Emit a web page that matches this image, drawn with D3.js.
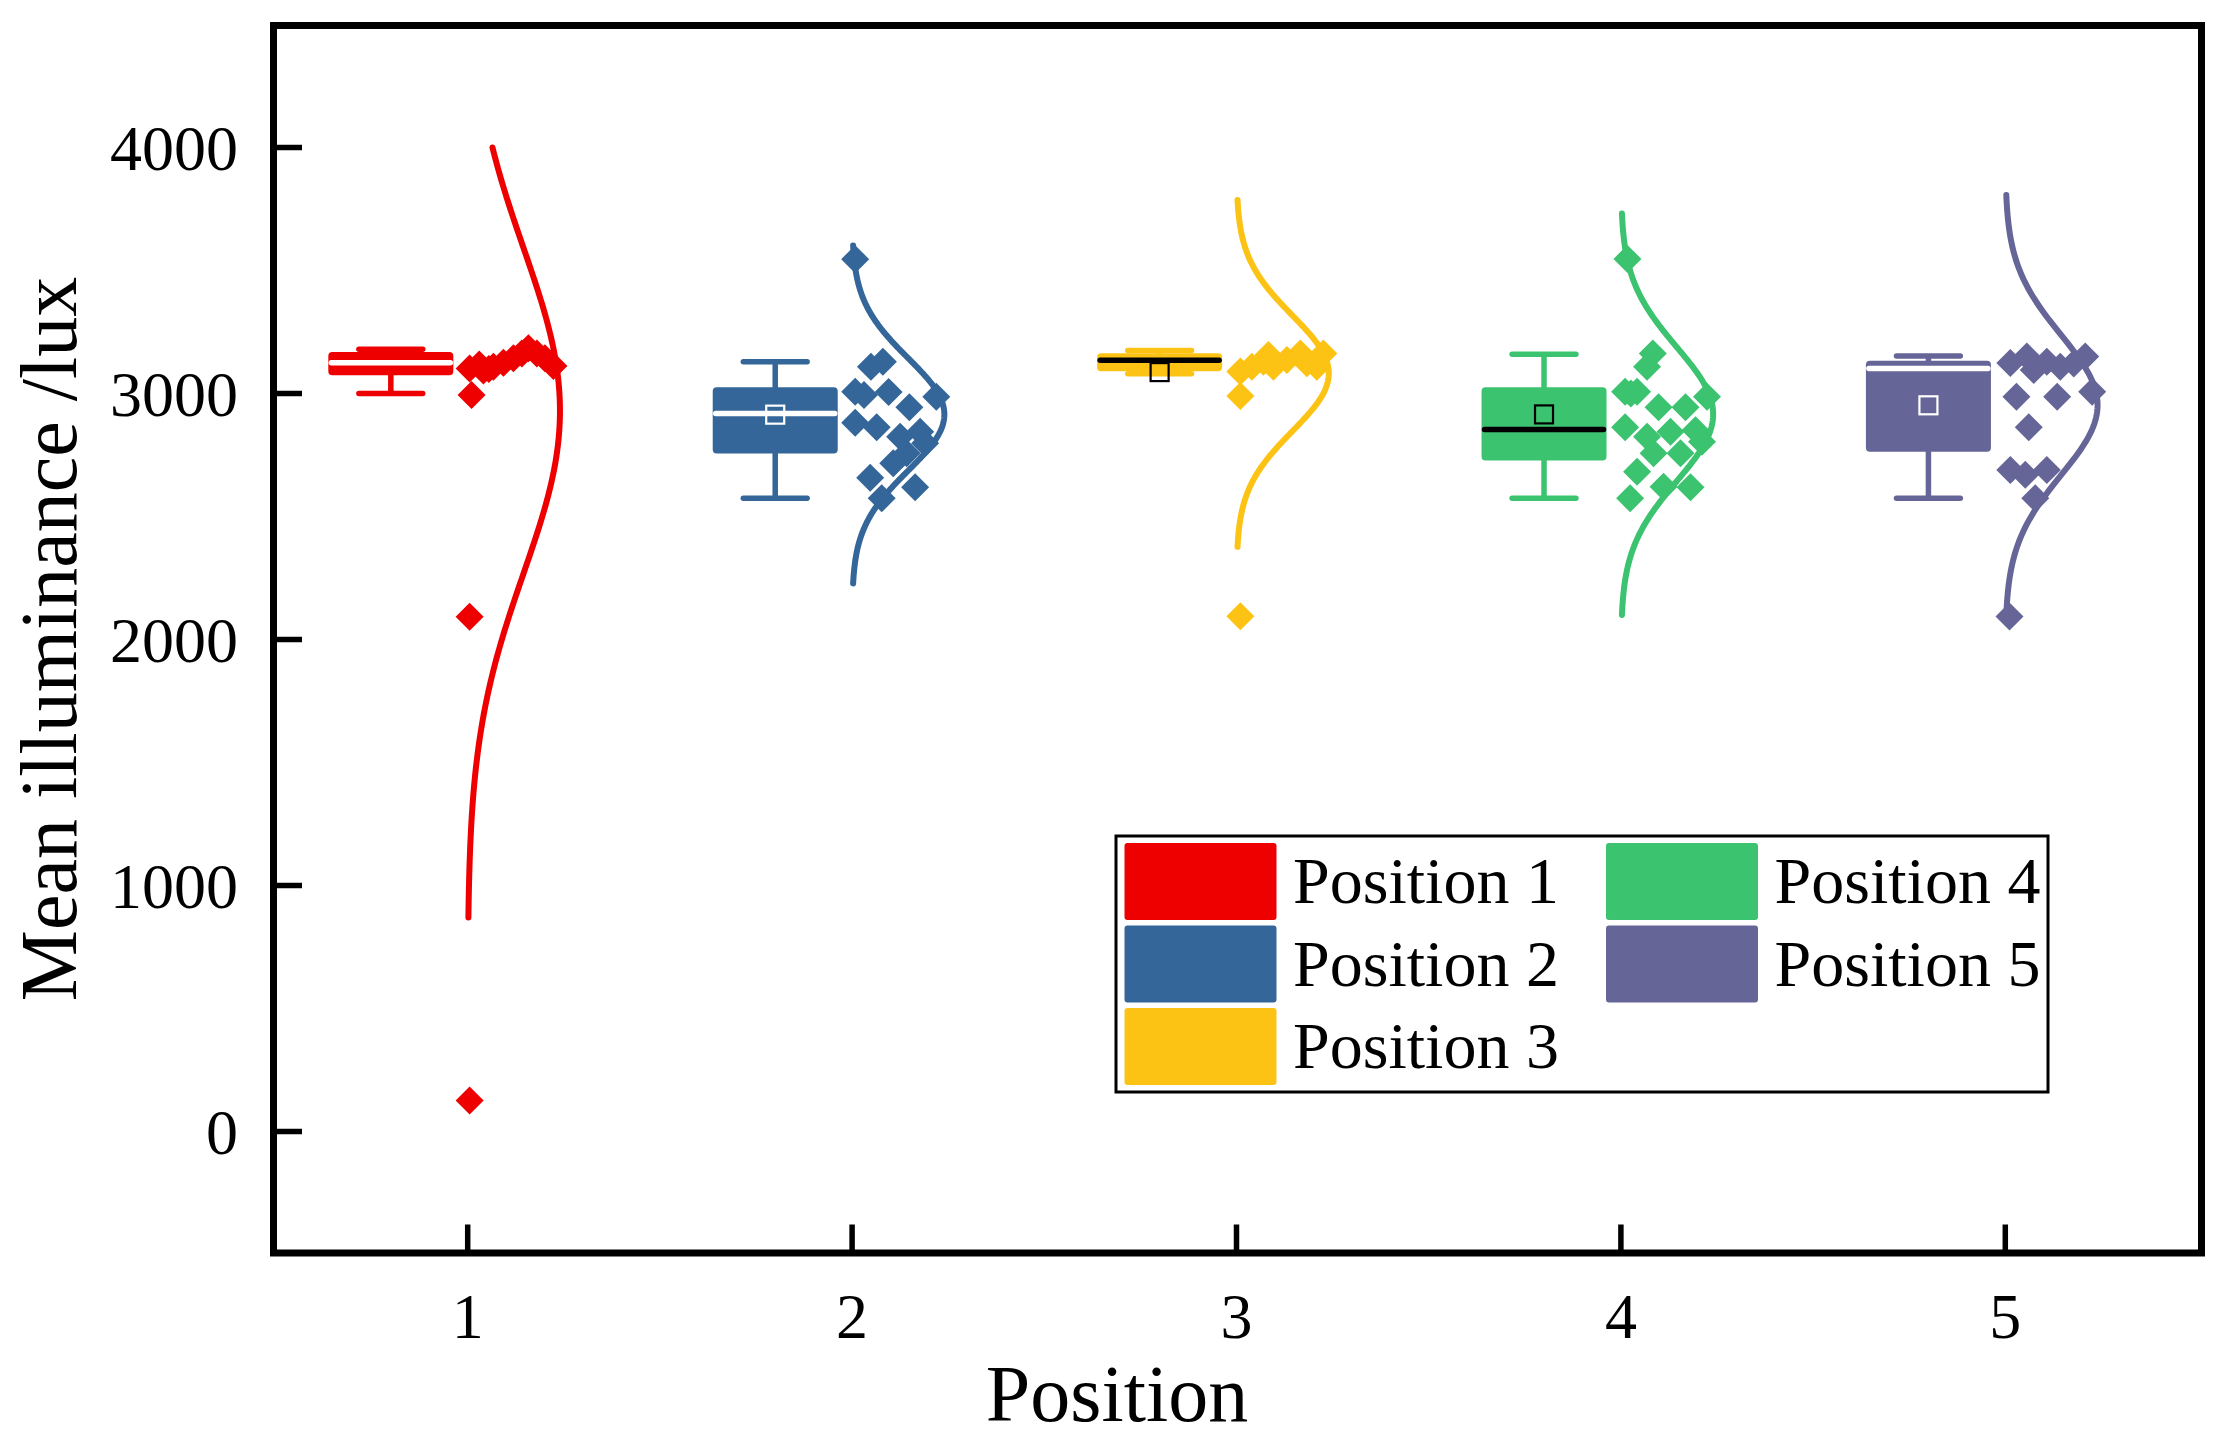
<!DOCTYPE html>
<html><head><meta charset="utf-8">
<script src="https://cdn.jsdelivr.net/npm/d3@7"></script>
<style>html,body{margin:0;padding:0;background:#fff;} svg{display:block;}</style>
</head><body>
<script>
// ---------------- DATA ----------------
const categories = [1, 2, 3, 4, 5];
const xTickLabels = ["1", "2", "3", "4", "5"];
const yTicks = [0, 1000, 2000, 3000, 4000];
const seriesNames = ["Position 1", "Position 2", "Position 3", "Position 4", "Position 5"];

// individual measurements (value) and their horizontal jitter (category units)
const p1Values = [3102, 2994, 3093, 3109, 3125, 3143, 3163, 3184, 3163, 3143, 3112, 3100, 3118, 2092, 126];
const p1Jitter = [0.005, 0.01, 0.041, 0.067, 0.093, 0.119, 0.141, 0.158, 0.18, 0.201, 0.223, 0.055, 0.03, 0.005, 0.005];

const p2Values = [3546, 3109, 3129, 3007, 2994, 3006, 2944, 2987, 2881, 2863, 2824, 2845, 2798, 2757, 2658, 2716, 2574, 2619];
const p2Jitter = [0.008, 0.049, 0.08, 0.008, 0.031, 0.095, 0.149, 0.219, 0.008, 0.064, 0.125, 0.177, 0.19, 0.142, 0.047, 0.107, 0.077, 0.164];

const p3Values = [3089, 3109, 3129, 3157, 3109, 3136, 3163, 3123, 3109, 3163, 2990, 2095];
const p3Jitter = [0.01, 0.04, 0.07, 0.083, 0.096, 0.131, 0.166, 0.183, 0.209, 0.226, 0.01, 0.01];

const p4Values = [3547, 3163, 3109, 3007, 3007, 3000, 2944, 2944, 2987, 2863, 2824, 2845, 2851, 2804, 2757, 2757, 2682, 2621, 2619, 2574];
const p4Jitter = [0.017, 0.083, 0.068, 0.011, 0.042, 0.026, 0.098, 0.168, 0.224, 0.011, 0.068, 0.129, 0.194, 0.211, 0.085, 0.155, 0.042, 0.111, 0.181, 0.024];

const p5Values = [2093, 3124, 3150, 3129, 3096, 3109, 3122, 3150, 3007, 2987, 2987, 2863, 2689, 2670, 2689, 2574];
const p5Jitter = [0.011, 0.013, 0.056, 0.108, 0.074, 0.143, 0.178, 0.208, 0.226, 0.029, 0.135, 0.061, 0.013, 0.052, 0.108, 0.078];

// box statistics
const boxQ1 = [3078, 2760, 3095, 2732, 2767];
const boxMedian = [3125, 2919, 3135, 2854, 3102];
const boxQ3 = [3165, 3021, 3160, 3021, 3129];
const whiskerLow = [3000, 2574, 3080, 2574, 2574];
const whiskerHigh = [3180, 3129, 3175, 3160, 3152];
const boxMean = [null, 2914, 3087, 2915, 2952];

// fitted normal distribution curves
const curveMean = [2930, 2915, 3082, 2916, 2953];
const curveSD = [660, 229, 235, 272, 284];
const curveLow = [870, 2228, 2377, 2100, 2100];
const curveHigh = [4000, 3602, 3787, 3732, 3807];

// ---------------- STYLE ----------------
const colors = ["#EE0000", "#34669A", "#FCC314", "#3CC36F", "#656598"];
const medianColors = ["#ffffff", "#ffffff", "#000000", "#000000", "#ffffff"];
const meanColors = ["none", "#ffffff", "#000000", "#000000", "#ffffff"];
const FONT = "'Liberation Serif','Times New Roman',Times,serif";

const W = 2230, H = 1451;
const frame = {left: 273.5, right: 2201.5, top: 25.5, bottom: 1253};

const allValues = [p1Values, p2Values, p3Values, p4Values, p5Values];
const allJitter = [p1Jitter, p2Jitter, p3Jitter, p4Jitter, p5Jitter];

const svg = d3.select("body").append("svg").attr("width", W).attr("height", H)
  .style("font-family", FONT);

const x = d3.scaleLinear().domain([0.5, 5.5]).range([275.5, 2197.5]);
const y = d3.scaleLinear().domain([-500, 4500]).range([1254.5, 24.5]);

const boxOffset = -0.2, boxHalf = 0.16, capHalf = 0.083, curvePeak = 0.24;

// ----- boxes -----
const gBox = svg.append("g");
categories.forEach((c, i) => {
  const cx = c + boxOffset;
  const g = gBox.append("g");
  g.append("line").attr("x1", x(cx)).attr("x2", x(cx))
    .attr("y1", y(whiskerHigh[i])).attr("y2", y(boxQ3[i]))
    .attr("stroke", colors[i]).attr("stroke-width", 5.5);
  g.append("line").attr("x1", x(cx)).attr("x2", x(cx))
    .attr("y1", y(whiskerLow[i])).attr("y2", y(boxQ1[i]))
    .attr("stroke", colors[i]).attr("stroke-width", 5.5);
  [whiskerHigh[i], whiskerLow[i]].forEach(v => {
    g.append("line").attr("x1", x(cx - capHalf)).attr("x2", x(cx + capHalf))
      .attr("y1", y(v)).attr("y2", y(v))
      .attr("stroke", colors[i]).attr("stroke-width", 5.5).attr("stroke-linecap", "round");
  });
  g.append("rect").attr("x", x(cx - boxHalf)).attr("width", x(cx + boxHalf) - x(cx - boxHalf))
    .attr("y", y(boxQ3[i])).attr("height", y(boxQ1[i]) - y(boxQ3[i]))
    .attr("rx", 3).attr("fill", colors[i]).attr("stroke", colors[i]).attr("stroke-width", 2);
  g.append("line").attr("x1", x(cx - boxHalf) + 2).attr("x2", x(cx + boxHalf) - 2)
    .attr("y1", y(boxMedian[i])).attr("y2", y(boxMedian[i]))
    .attr("stroke", medianColors[i]).attr("stroke-width", 5.5).attr("stroke-linecap", "round");
  if (boxMean[i] !== null) {
    const s = 18;
    g.append("rect").attr("x", x(cx) - s / 2).attr("y", y(boxMean[i]) - s / 2)
      .attr("width", s).attr("height", s).attr("fill", "none")
      .attr("stroke", meanColors[i]).attr("stroke-width", 2.2);
  }
});

// ----- distribution curves -----
const gCurve = svg.append("g");
categories.forEach((c, i) => {
  const n = 240;
  const pts = d3.range(n + 1).map(k => {
    const v = curveLow[i] + (curveHigh[i] - curveLow[i]) * k / n;
    const z = (v - curveMean[i]) / curveSD[i];
    return [c + curvePeak * Math.exp(-0.5 * z * z), v];
  });
  gCurve.append("path")
    .attr("d", d3.line().x(d => x(d[0])).y(d => y(d[1]))(pts))
    .attr("fill", "none").attr("stroke", colors[i]).attr("stroke-width", 6)
    .attr("stroke-linecap", "round").attr("stroke-linejoin", "round");
});

// ----- points -----
const gPts = svg.append("g");
const dh = 14;
const diamond = `M0,${-dh}L${dh},0L0,${dh}L${-dh},0Z`;
categories.forEach((c, i) => {
  gPts.append("g").selectAll("path").data(allValues[i].map((v, k) => [c + allJitter[i][k], v]))
    .join("path").attr("d", diamond)
    .attr("transform", d => `translate(${x(d[0])},${y(d[1])})`)
    .attr("fill", colors[i]);
});

// ----- frame and axes -----
svg.append("rect").attr("x", frame.left).attr("y", frame.top)
  .attr("width", frame.right - frame.left).attr("height", frame.bottom - frame.top)
  .attr("fill", "none").attr("stroke", "#000").attr("stroke-width", 7);

const tickLen = 28;
const gY = svg.append("g");
yTicks.forEach(t => {
  gY.append("line").attr("x1", frame.left).attr("x2", frame.left + 3.5 + tickLen - 3)
    .attr("y1", y(t)).attr("y2", y(t)).attr("stroke", "#000").attr("stroke-width", 5.5);
  gY.append("text").attr("x", 238).attr("y", y(t)).attr("dy", "0.35em")
    .attr("text-anchor", "end").attr("font-size", 64).text(d3.format("d")(t));
});

const gX = svg.append("g");
categories.forEach((c, i) => {
  gX.append("line").attr("x1", x(c)).attr("x2", x(c))
    .attr("y1", frame.bottom).attr("y2", frame.bottom - 3.5 - tickLen + 3)
    .attr("stroke", "#000").attr("stroke-width", 5.5);
  gX.append("text").attr("x", x(c)).attr("y", 1338)
    .attr("text-anchor", "middle").attr("font-size", 64).text(xTickLabels[i]);
});

svg.append("text").attr("x", 1117).attr("y", 1421).attr("text-anchor", "middle")
  .attr("font-size", 80).text("Position");
svg.append("text").attr("transform", "translate(76,639) rotate(-90)")
  .attr("text-anchor", "middle").attr("font-size", 80).text("Mean illuminance /lux");

// ----- legend -----
const lg = {x: 1116, y: 836, w: 932, h: 256};
const gL = svg.append("g");
gL.append("rect").attr("x", lg.x).attr("y", lg.y).attr("width", lg.w).attr("height", lg.h)
  .attr("fill", "#fff").attr("stroke", "#000").attr("stroke-width", 3);
seriesNames.forEach((name, i) => {
  const col = Math.floor(i / 3), row = i % 3;
  const sx = lg.x + 8.5 + col * 481.5, sy = lg.y + 7 + row * 82.5;
  gL.append("rect").attr("x", sx).attr("y", sy).attr("width", 152).attr("height", 77)
    .attr("rx", 3).attr("fill", colors[i]);
  gL.append("text").attr("x", sx + 168.5).attr("y", sy + 60)
    .attr("font-size", 66).text(name);
});
</script>
</body></html>
